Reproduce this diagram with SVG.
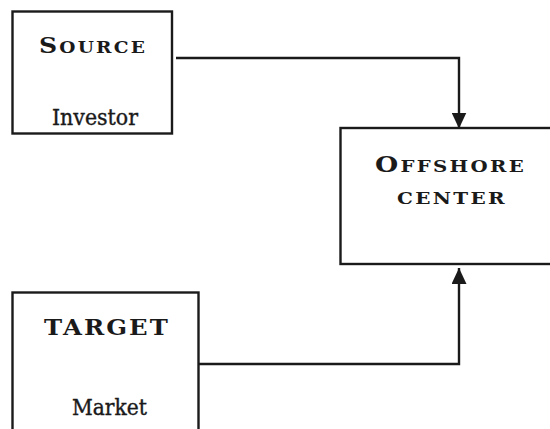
<svg xmlns="http://www.w3.org/2000/svg" width="550" height="429" viewBox="0 0 550 429">
  <style>
    .box { fill: none; stroke: #1a1a1a; stroke-width: 2.4; }
    .conn { fill: none; stroke: #1a1a1a; stroke-width: 2.4; }
    .title { font-family: "DejaVu Serif", "Liberation Serif", serif; font-weight: bold; fill: #1a1a1a; }
    .big { font-size: 23px; }
    .sc { font-size: 17px; }
    .sub { font-family: "DejaVu Serif", "Liberation Serif", serif; font-size: 22px; fill: #1a1a1a; stroke: #1a1a1a; stroke-width: 0.4; }
  </style>
  <defs>
    <marker id="arrow" markerUnits="userSpaceOnUse" markerWidth="16" markerHeight="15" refX="16" refY="7.5" orient="auto">
      <path d="M0,0 L16,7.5 L0,15 z" fill="#1a1a1a"/>
    </marker>
  </defs>
  <rect width="550" height="429" fill="#ffffff"/>

  <g id="source">
    <rect class="box" x="12.5" y="11.5" width="159.5" height="122"/>
    <text class="title" x="39" y="53" textLength="108" lengthAdjust="spacingAndGlyphs" style="letter-spacing:2px"><tspan class="big">S</tspan><tspan class="sc">OURCE</tspan></text>
    <text class="sub" x="52" y="125" textLength="86" lengthAdjust="spacingAndGlyphs">Investor</text>
  </g>

  <g id="offshore">
    <rect class="box" x="340.5" y="128" width="222" height="136"/>
    <text class="title" x="375" y="172" textLength="151" lengthAdjust="spacingAndGlyphs" style="letter-spacing:2px"><tspan class="big">O</tspan><tspan class="sc">FFSHORE</tspan></text>
    <text class="title sc" x="397" y="203.5" textLength="110" lengthAdjust="spacingAndGlyphs" style="letter-spacing:2px">CENTER</text>
  </g>

  <g id="target">
    <rect class="box" x="12.5" y="292.5" width="186" height="150"/>
    <text class="title big" x="44" y="335" textLength="126" lengthAdjust="spacingAndGlyphs" style="letter-spacing:2px">TARGET</text>
    <text class="sub" x="72" y="415" textLength="75" lengthAdjust="spacingAndGlyphs">Market</text>
  </g>

  <g id="connectors">
    <path class="conn" d="M176,58 H459 V128.5" marker-end="url(#arrow)"/>
    <path class="conn" d="M199,364 H459 V268" marker-end="url(#arrow)"/>
  </g>
</svg>
